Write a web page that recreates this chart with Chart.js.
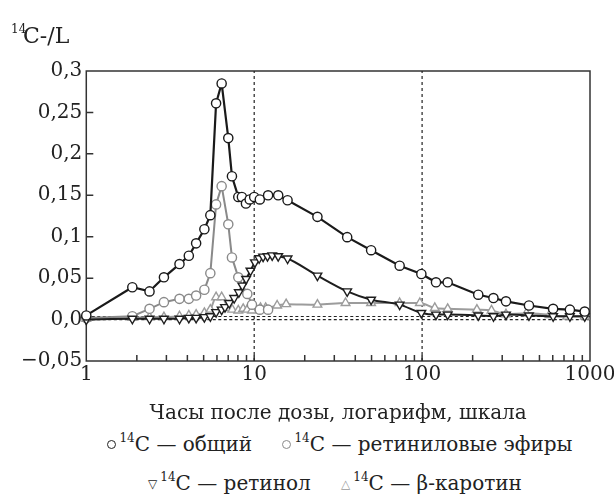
<!DOCTYPE html>
<html>
<head>
<meta charset="UTF-8">
<title>14C</title>
<script src="https://cdn.jsdelivr.net/npm/chart.js@4.4.1/dist/chart.umd.min.js"></script>
<style>
body{margin:0;background:#fff;}
#wrap{position:relative;width:614px;height:503px;overflow:hidden;}
#chart{position:absolute;left:0;top:0;}
.row{position:absolute;left:0;width:614px;text-align:center;font-family:"DejaVu Serif",serif;font-size:20px;color:#222;white-space:nowrap;}
.row sup{font-size:12px;vertical-align:9px;line-height:0;}
.item{display:inline-block;margin:0 12px;}
.dot{display:inline-block;width:7px;height:7px;border:1.5px solid #222;border-radius:50%;vertical-align:2px;margin-right:3px;}
.tri{font-family:"DejaVu Sans",sans-serif;font-size:12px;vertical-align:2px;margin-right:3px;}
</style>
</head>
<body>
<div id="wrap">
	<canvas id="chart" width="614" height="430"></canvas>
	<div class="row" style="top:432px;padding-left:66px;box-sizing:border-box;">
		<span class="item"><span class="dot"></span><sup>14</sup>C — общий</span>
		<span class="item"><span class="dot" style="border-color:#8a8a8a"></span><sup>14</sup>C — ретиниловые эфиры</span>
	</div>
	<div class="row" style="top:471px;padding-left:56px;box-sizing:border-box;">
		<span class="item"><span class="tri" style="color:#222">▽</span><sup>14</sup>C — ретинол</span>
		<span class="item"><span class="tri" style="color:#999">△</span><sup>14</sup>C — β-каротин</span>
	</div>
</div>

<script type="text/javascript">

	// 14C - общий
	var xTotal = [1, 1.88, 2.38, 2.9, 3.59, 4.08, 4.51, 5.05, 5.48, 5.93, 6.4, 7.01, 7.37, 8.04, 8.45, 8.93, 9.4, 10, 10.8, 12.1, 13.9, 15.8, 23.8, 35.8, 49.7, 73.5, 99, 121, 142, 216, 266, 316, 433, 603, 759, 930]
	var yTotal = [0.005, 0.039, 0.034, 0.051, 0.067, 0.077, 0.092, 0.109, 0.126, 0.261, 0.285, 0.219, 0.173, 0.148, 0.148, 0.140, 0.145, 0.148, 0.145, 0.150, 0.150, 0.144, 0.124, 0.0995, 0.0837, 0.065, 0.055, 0.045, 0.045, 0.030, 0.026, 0.022, 0.017, 0.013, 0.012, 0.0097]

	// 14C - ретиниловые эфиры
	var xEsters = [1, 1.88, 2.38, 2.9, 3.59, 4.08, 4.51, 5.05, 5.48, 5.93, 6.4, 7.01, 7.37, 8.04, 9.1, 9.7, 10.8, 12.1]
	var yEsters = [0.002, 0.004, 0.013, 0.021, 0.025, 0.025, 0.029, 0.036, 0.056, 0.139, 0.161, 0.115, 0.075, 0.051, 0.031, 0.018, 0.012, 0.012]

	// 14C - ретинол
	var xRetinol = [1, 1.88, 2.38, 2.9, 3.59, 4.08, 4.51, 5.05, 5.48, 5.93, 6.4, 6.7, 7.1, 7.6, 8.1, 8.5, 8.95, 9.5, 10.1, 10.7, 11.3, 12, 12.8, 13.9, 15.8, 23.8, 35.8, 49.7, 73.5, 99, 121, 142, 216, 266, 316, 433, 603, 759, 930]
	var yRetinol = [0, 0.001, 0.001, 0.001, 0.001, 0.002, 0.002, 0.003, 0.004, 0.009, 0.012, 0.015, 0.020, 0.026, 0.033, 0.041, 0.049, 0.059, 0.069, 0.074, 0.076, 0.0765, 0.0775, 0.0765, 0.0737, 0.053, 0.034, 0.024, 0.018, 0.008, 0.006, 0.006, 0.005, 0.004, 0.006, 0.005, 0.004, 0.004, 0.004]

	// 14C - β-каротин
	var xCarotene = [1, 1.88, 2.38, 2.9, 3.59, 4.08, 4.51, 5.05, 5.48, 5.93, 6.4, 7.01, 7.4, 8.04, 8.6, 9.1, 9.7, 10.9, 11.7, 13.7, 15.5, 23.8, 35, 49.7, 73.5, 97, 119, 142, 212, 259, 316, 418, 574, 731, 930]
	var yCarotene = [0.001, 0.002, 0.003, 0.003, 0.004, 0.005, 0.006, 0.008, 0.012, 0.027, 0.027, 0.014, 0.012, 0.011, 0.013, 0.012, 0.011, 0.014, 0.014, 0.017, 0.0186, 0.018, 0.020, 0.020, 0.020, 0.020, 0.014, 0.013, 0.012, 0.011, 0.0064, 0.0076, 0.0056, 0.0036, 0.0036]

	// оси
	var xTickValues = [1, 2, 3, 4, 5, 6, 7, 8, 9, 10, 20, 30, 40, 50, 60, 70, 80, 90, 100, 200, 300, 400, 500, 600, 700, 800, 900, 1000]
	var xLabelValues = [1, 10, 100, 1000]
	var xMarkLines = [10, 100]
	var yTickValues = [-0.05, 0, 0.05, 0.1, 0.15, 0.2, 0.25, 0.3]
	var yTickLabels = ['\u22120,05', '0,0', '0,05', '0,1', '0,15', '0,2', '0,25', '0,3']
	var yZeroLines = [0.0037, 0]

	var serif = '"DejaVu Serif", serif'
	var ink = '#222'

	var pts = function(xs, ys) {
		return xs.map(function(x, i) { return {x: x, y: ys[i]} })
	}

	var series = function(label, xs, ys, color, style, extra) {
		var ds = {
			label: label,
			data: pts(xs, ys),
			borderColor: color,
			borderWidth: 2,
			backgroundColor: '#fff',
			pointBackgroundColor: '#fff',
			pointBorderColor: color,
			pointBorderWidth: 1.4,
			pointStyle: style,
			pointRadius: 4.6,
			clip: false,
			tension: 0
		}
		for (var k in extra) ds[k] = extra[k]
		return ds
	}

	var datasets = [
		series('14C — общий', xTotal, yTotal, '#1a1a1a', 'circle', {borderWidth: 2.2}),
		series('14C — ретинол', xRetinol, yRetinol, '#1e1e1e', 'triangle', {pointRadius: 5, pointRotation: 180, cubicInterpolationMode: 'monotone'}),
		series('14C — ретиниловые эфиры', xEsters, yEsters, '#8a8a8a', 'circle', {}),
		series('14C — β-каротин', xCarotene, yCarotene, '#9c9c9c', 'triangle', {pointRadius: 5, cubicInterpolationMode: 'monotone'})
	]

	// пунктирные линии
	xMarkLines.forEach(function(v) {
		datasets.push({data: [{x: v, y: -0.05}, {x: v, y: 0.3}], borderColor: ink, borderWidth: 1.2, borderDash: [3, 3], pointRadius: 0})
	})
	yZeroLines.forEach(function(v) {
		datasets.push({data: [{x: 1, y: v}, {x: 1000, y: v}], borderColor: ink, borderWidth: 1.2, borderDash: [3, 2.5], pointRadius: 0})
	})

	// рамка и внутренние риски
	var frame = {
		id: 'frame',
		beforeDatasetsDraw: function(chart) {
			var a = chart.chartArea, ctx = chart.ctx
			var xs = chart.scales.x, ys = chart.scales.y
			ctx.save()
			ctx.strokeStyle = '#333'
			ctx.lineWidth = 1.5
			ctx.strokeRect(a.left, a.top, a.right - a.left, a.bottom - a.top)
			ctx.beginPath()
			xs.ticks.forEach(function(t) {
				var px = xs.getPixelForValue(t.value)
				if (px <= a.left + 1 || px >= a.right - 1) return
				ctx.moveTo(px, a.bottom)
				ctx.lineTo(px, a.bottom - 6)
			})
			ys.ticks.forEach(function(t) {
				var py = ys.getPixelForValue(t.value)
				if (py <= a.top + 1 || py >= a.bottom - 1) return
				ctx.moveTo(a.left, py)
				ctx.lineTo(a.left + 7, py)
			})
			ctx.stroke()
			ctx.restore()
		}
	}

	// подпись оси Y
	var yTitle = {
		id: 'yTitle',
		afterDraw: function(chart) {
			var ctx = chart.ctx
			ctx.save()
			ctx.fillStyle = ink
			ctx.textBaseline = 'alphabetic'
			ctx.font = '12px ' + serif
			ctx.fillText('14', 11, 33)
			ctx.font = '22px ' + serif
			ctx.fillText('C-/L', 23, 43)
			ctx.restore()
		}
	}

	var ctx = document.getElementById('chart').getContext('2d')
	var chart = new Chart(ctx, {
		type: 'line',
		data: {datasets: datasets},
		plugins: [frame, yTitle],
		options: {
			responsive: false,
			animation: false,
			devicePixelRatio: 1,
			layout: {padding: {top: 71, left: 17, right: 0, bottom: 4}},
			plugins: {legend: {display: false}, tooltip: {enabled: false}},
			scales: {
				x: {
					type: 'logarithmic',
					min: 1,
					max: 1000,
					afterBuildTicks: function(s) {
						s.ticks = xTickValues.map(function(v) { return {value: v} })
					},
					afterFit: function(s) {
						s.paddingRight = 24
					},
					grid: {display: false, drawTicks: false},
					border: {display: false},
					ticks: {
						autoSkip: false,
						maxRotation: 0,
						padding: 2,
						color: ink,
						font: {family: serif, size: 20},
						callback: function(v) {
							return xLabelValues.indexOf(v) >= 0 ? String(v) : ''
						}
					},
					title: {
						display: true,
						text: 'Часы после дозы, логарифм, шкала',
						color: ink,
						font: {family: serif, size: 20},
						padding: {top: 13, bottom: 0}
					}
				},
				y: {
					min: -0.05,
					max: 0.3,
					afterBuildTicks: function(s) {
						s.ticks = yTickValues.map(function(v) { return {value: v} })
					},
					grid: {display: false, drawTicks: false},
					border: {display: false},
					ticks: {
						padding: 4,
						color: ink,
						font: {family: serif, size: 20},
						callback: function(v, i) { return yTickLabels[i] }
					}
				}
			}
		}
	})
</script>
</body>
</html>
